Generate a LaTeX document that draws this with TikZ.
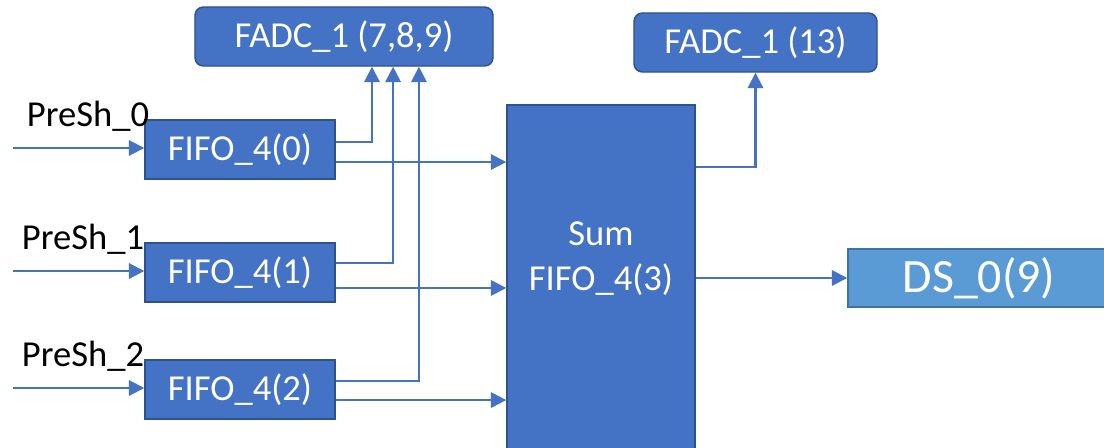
\documentclass[tikz,border=0pt]{standalone}
\usepackage{fontspec}
\setmainfont{Carlito}
\usetikzlibrary{arrows.meta, positioning, calc}
\definecolor{boxblue}{HTML}{4472C4}
\definecolor{boxedge}{HTML}{2F528F}
\definecolor{dsblue}{HTML}{5B9BD5}
\definecolor{dsedge}{HTML}{41719C}

\begin{document}
\begin{tikzpicture}[
    x=0.025cm, y=-0.025cm,
    >={Triangle[length=11pt, width=11pt]},
    fifo/.style={draw=boxedge, fill=boxblue, line width=1pt, text=white,
      minimum width=4.75cm, minimum height=1.475cm, inner sep=0pt,
      font=\fontsize{26}{31}\selectfont},
    fadc/.style={fifo, rounded corners=6pt},
    link/.style={draw=boxblue, line width=1.5pt},
    arrow/.style={link, ->},
    inlabel/.style={anchor=base west, font=\fontsize{26}{31}\selectfont},
]
\useasboundingbox (0,0) rectangle (1104,447);
\clip (0,0) rectangle (1104,447);

% FADC boxes
\node[fadc, minimum width=7.45cm] (fadca) at (344,36.5) {FADC\_1 (7,8,9)};
\node[fadc, minimum width=6.075cm] (fadcb) at (755.5,42.5) {FADC\_1 (13)};

% Sum box, runs past the bottom edge
\node[fifo, minimum width=4.7cm, minimum height=9.25cm] (sum) at (601,290) {};
\node[text=white, align=center, font=\fontsize{26}{32}\selectfont] (sumtext)
  at (601,259) {Sum\\FIFO\_4(3)};

% Output box
\node[fifo, draw=dsedge, fill=dsblue, minimum width=6.55cm, minimum height=1.45cm,
  font=\fontsize{34}{40}\selectfont] (ds) at (979,278) {DS\_0(9)};

% FIFO rows: index / y / label x / tap x / up shift / down shift
\foreach \i/\y/\lx/\tx/\up/\dn in {0/149.5/22/19.9/5.3/-8.9,
                                   1/272.5/17/34.9/6.8/-11,
                                   2/389.5/17/53.3/6.0/-7.5} {
    \node[fifo] (fifo\i) at (240,\y) {FIFO\_4(\i)};
    \node[inlabel] (presh\i) at (\lx,\y-23.5) {PreSh\_\i};
    \coordinate (in\i) at (13,\y-1.5);
    \draw[arrow] (in\i) -- (in\i -| fifo\i.west);
    \draw[arrow] ([yshift=\up pt]fifo\i.east) -| ([xshift=\tx pt]fadca.south);
    \draw[arrow] ([yshift=\dn pt]fifo\i.east) coordinate (out\i) -- (out\i -| sum.west);
}

% Sum outputs
\draw[arrow] ([yshift=87.5pt]sum.east) -| (fadcb.south);
\draw[arrow] (ds.west -| sum.east) -- (ds.west);

\end{tikzpicture}
\end{document}
